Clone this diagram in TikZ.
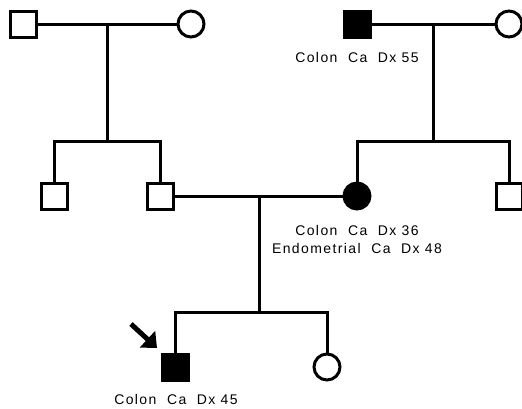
\documentclass[tikz,border=0pt]{standalone}
\usepackage{fontspec}
\setmainfont{Liberation Sans}[LetterSpace=10]
\usetikzlibrary{arrows.meta,calc}
\begin{document}
\begin{tikzpicture}[x=1pt,y=-1pt,
  ind/.style={draw,line width=3pt,inner sep=0pt,minimum size=26pt},
  male/.style={ind,rectangle},
  female/.style={ind,circle},
  aff/.style={fill=black},
  line/.style={line width=3pt},
  lab/.style={font=\fontsize{14}{17}\selectfont,inner sep=0pt,align=center}]
\clip (0,0) rectangle (522,408);
\fill[white] (0,0) rectangle (522,408);
% generation I
\node[male] (A) at (23,24) {};
\node[female] (B) at (191,24) {};
\node[male,aff] (C) at (357,24) {};
\node[female] (D) at (509,24) {};
% generation II
\node[male] (E) at (54,196) {};
\node[male] (F) at (160,196) {};
\node[female,aff] (G) at (357,196) {};
\node[male] (H) at (509,196) {};
% generation III
\node[male,aff] (I) at (175,367) {};
\node[female] (J) at (327,367) {};
% labels
\node[lab] (lC) at (357,57) {Colon\ \ Ca\ \ Dx 55};
\node[lab] (lG) at (357,239) {Colon\ \ Ca\ \ Dx 36\\[1pt]Endometrial\ \ Ca\ \ Dx 48};
\node[lab] (lI) at (176,399) {Colon\ \ Ca\ \ Dx 45};
% marriages
\draw[line] (A) -- (B);
\draw[line] (C) -- (D);
\draw[line] (F) -- (G);
% descent
\coordinate (s1) at (107,141);
\coordinate (s2) at (433,141);
\coordinate (s3) at (259,312);
\draw[line] (s1 |- A) -- (s1);
\draw[line] (E.north) -- (E.north |- s1) -- (F.north |- s1) -- (F.north);
\draw[line] (s2 |- C) -- (s2);
\draw[line] (G.north) -- (G.north |- s2) -- (H.north |- s2) -- (H.north);
\draw[line] (s3 |- F) -- (s3);
\draw[line] (I.north) -- (I.north |- s3) -- (J.north |- s3) -- (J.north);
% proband arrow
\coordinate (p0) at (131,324);
\coordinate (p1) at (157,348);
\draw[line width=5pt,-{Triangle[length=13pt,width=22pt]}] (p0) -- (p1);
\end{tikzpicture}
\end{document}
